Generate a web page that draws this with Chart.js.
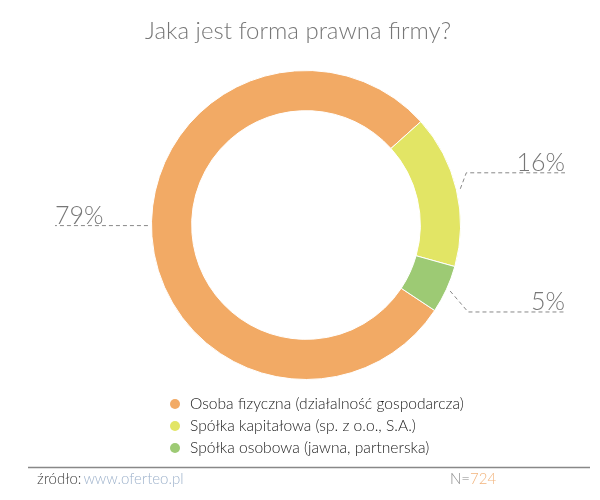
<!DOCTYPE html>
<html>
<head>
<meta charset="utf-8">
<script src="https://cdn.jsdelivr.net/npm/chart.js@4"></script>
<style>
  html, body { margin: 0; padding: 0; background: #fff; }
  #wrap { width: 600px; height: 500px; }
</style>
</head>
<body>
<div id="wrap"><canvas id="formChart" width="600" height="500"></canvas></div>
<script>
// data
const categories = [
    'Osoba fizyczna (działalność gospodarcza)',
    'Spółka kapitałowa (sp. z o.o., S.A.)',
    'Spółka osobowa (jawna, partnerska)'
];
const shares = [79, 16, 5];
const sliceColors = ['#f2aa65', '#e2e565', '#9dca74'];
const titleText = 'Jaka jest forma prawna firmy?';
const sampleSize = 724;
const sourceUrl = 'www.oferteo.pl';

// leader line style for each slice label (relative to slice mid point)
const leaders = [
    { kx: 0, ky: -11, endX: 55, side: 'left' },
    { kx: 6, ky: -16, endX: 565, side: 'right' },
    { kx: 18, ky: 21, endX: 565, side: 'right' }
];

const FONT = 'Lato, "Open Sans", sans-serif';

const extrasPlugin = {
    id: 'extras',
    afterDraw(chart) {
        const ctx = chart.ctx;
        const arcs = chart.getDatasetMeta(0).data;
        ctx.save();

        // title
        ctx.fillStyle = '#777';
        ctx.font = '300 24px ' + FONT;
        ctx.textAlign = 'center';
        ctx.textBaseline = 'alphabetic';
        ctx.fillText(titleText, 298, 39);

        // slice labels with dashed leaders
        arcs.forEach(function(arc, i) {
            const p = arc.getProps(['x', 'y', 'startAngle', 'endAngle', 'outerRadius'], true);
            const mid = (p.startAngle + p.endAngle) / 2;
            const r = p.outerRadius + 4;
            const ax = p.x + Math.cos(mid) * r;
            const ay = p.y + Math.sin(mid) * r;
            const spec = leaders[i];
            const kx = ax + spec.kx;
            const ky = ay + spec.ky;

            ctx.strokeStyle = '#888';
            ctx.lineWidth = 1;
            ctx.setLineDash([4, 3]);
            ctx.beginPath();
            if (i === 0) {
                ctx.moveTo(kx, ky);
            } else {
                ctx.moveTo(ax, ay);
                ctx.lineTo(kx, ky);
            }
            ctx.lineTo(spec.endX, ky);
            ctx.stroke();
            ctx.setLineDash([]);

            ctx.fillStyle = '#777';
            ctx.font = '300 25px ' + FONT;
            ctx.textAlign = spec.side === 'left' ? 'left' : 'right';
            ctx.fillText(shares[i] + '%', spec.endX, ky - 2);
        });

        // legend
        ctx.font = '300 15.6px ' + FONT;
        ctx.textAlign = 'left';
        ctx.textBaseline = 'middle';
        categories.forEach(function(name, i) {
            const y = 404 + i * 22;
            ctx.fillStyle = sliceColors[i];
            ctx.beginPath();
            ctx.arc(175, y, 5, 0, Math.PI * 2);
            ctx.fill();
            ctx.fillStyle = '#222';
            ctx.fillText(name, 190, y);
        });

        // footer
        ctx.strokeStyle = '#888';
        ctx.lineWidth = 1.5;
        ctx.beginPath();
        ctx.moveTo(28, 467.5);
        ctx.lineTo(590, 467.5);
        ctx.stroke();

        ctx.textBaseline = 'alphabetic';
        ctx.font = '300 15px ' + FONT;
        ctx.fillStyle = '#444';
        ctx.fillText('źródło:', 37, 484);
        const w = ctx.measureText('źródło:').width;
        ctx.fillStyle = '#9fb3cc';
        ctx.fillText(sourceUrl, 37 + w + 2, 484);

        ctx.fillStyle = '#888';
        ctx.fillText('N=', 450, 484);
        const nw = ctx.measureText('N=').width;
        ctx.fillStyle = '#f2b47c';
        ctx.fillText(String(sampleSize), 450 + nw, 484);

        ctx.restore();
    }
};

new Chart(document.getElementById('formChart'), {
    type: 'doughnut',
    data: {
        labels: categories,
        datasets: [{
            data: shares,
            backgroundColor: sliceColors,
            borderColor: '#ffffff',
            borderWidth: 1
        }]
    },
    options: {
        responsive: false,
        animation: false,
        rotation: 123.6,
        cutout: '74%',
        layout: {
            padding: { top: 70, bottom: 120, left: 151, right: 139 }
        },
        plugins: {
            legend: { display: false },
            tooltip: { enabled: false }
        }
    },
    plugins: [extrasPlugin]
});
</script>
</body>
</html>
